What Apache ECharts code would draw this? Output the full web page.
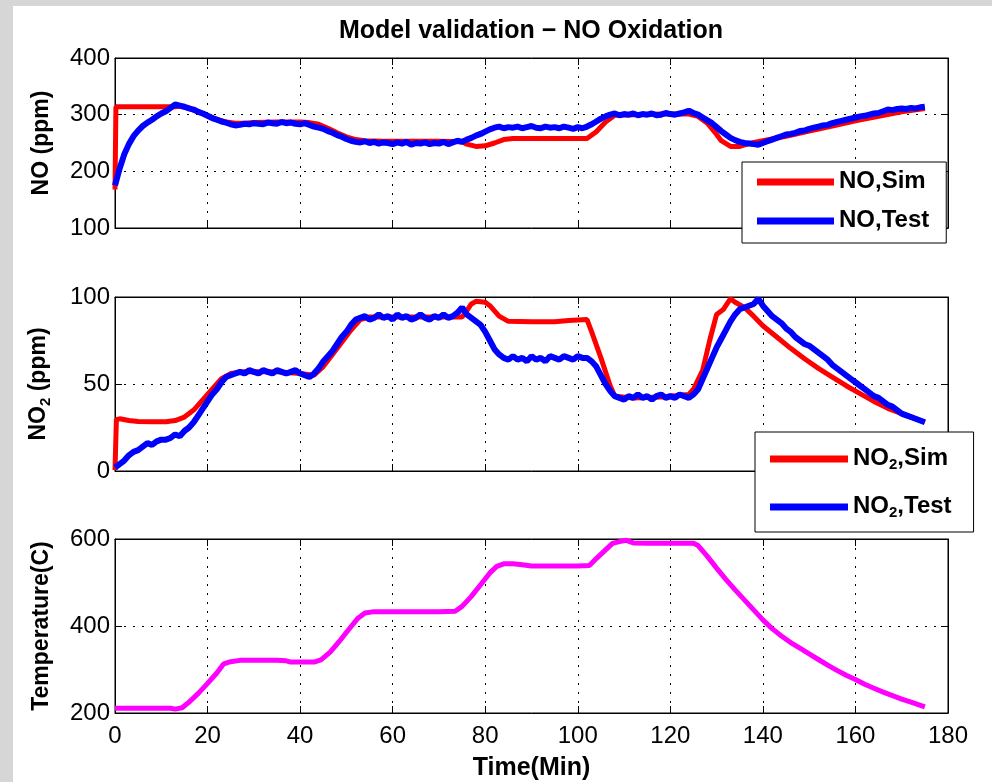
<!DOCTYPE html>
<html><head><meta charset="utf-8">
<script src="https://cdn.jsdelivr.net/npm/echarts@6/dist/echarts.min.js"></script>
<style>html,body{margin:0;padding:0;background:#fff}#c{width:992px;height:782px}</style>
</head><body><div id="c"></div>
<script>
// ---------------- DATA ----------------
const titleText = 'Model validation \u2212 NO Oxidation';
const xTicks = [0, 20, 40, 60, 80, 100, 120, 140, 160, 180];

// Simulation curves: (time, value)
const noSimT = [0,0.2,13,14,16,18,20,22,24,26,28,30,35,40,42,44,46,48,50,52,54,58,65,70,75,76,78,80,82,84,86,95,102,104,106,108,112,118,124,126,128,130,131,133,135,137,140,145,150,155,160,165,170,175];
const noSimV = [168,314,314,315,311,305,298,292,287,285,285,286,287,287,286,283,276,268,261,256,254,253,253,253,252,248,244,245,250,256,258,258,258,270,287,299,300,301,301,297,285,265,254,244,244,249,254,262,271,280,289,297,305,311];

const no2SimT = [0,0.3,1,3,5,8,11,13,15,17,19,21,23,25,28,35,40,43,45,47,49,51,53,55,65,75,76,77,78,80,81,83,85,90,95,98,102,103,105,107,108,112,118,124,125,127,128.5,130,131.5,133,134,136,138,140,143,146,149,152,155,158,161,164,167,170,173,175];
const no2SimV = [0.5,29.5,30,29,28.5,28.3,28.3,29,31,35,41,47,53,56,57,57,56,55,60,67,74,81,87,88.5,88.5,88.5,92,96,97.5,97,95,89,86,85.8,85.8,86.5,87,80,65,49,43,42,42.5,44,47,58,75,90,93,99,97,94,89,83.5,77,70.5,64.5,59,54,49,44.5,40,36,33,30,28];

// Measured curves, one reading per minute from t = 0 to 175 min
const noTestV = [175,205,230,248,262,272,280,286,291,297,302,306,312,318,316,314,311,309,305,302,
298,294,291,288,286,283,281,282,284,283,285,284,283,286,285,284,287,285,286,284,
283,285,282,279,277,275,271,268,264,261,257,254,252,251,253,250,252,249,251,250,
248,251,249,252,247,250,249,251,248,250,249,252,248,251,254,252,256,259,263,266,
270,274,277,279,276,278,277,279,276,278,280,277,276,279,277,278,276,279,277,275,
278,276,279,283,288,293,297,300,302,299,301,300,302,299,301,300,302,299,300,303,
301,300,302,304,307,303,300,295,290,285,278,271,265,259,255,252,250,249,248,247,
250,253,256,259,262,265,266,268,271,272,275,277,279,281,282,285,287,289,291,293,
295,297,298,300,302,303,306,309,308,310,311,310,312,311,313,314];

const no2TestV = [2,4,6,9,11,12,14,16,15,17,18,18,19,21,20,23,25,28,32,36,
40,44,47,51,54,55,56,57,56,58,57,56,58,57,56,58,57,56,57,58,
56,55,54,56,59,63,66,69,73,77,80,84,87,88,89,87,88,90,88,89,
87,90,88,89,87,88,90,88,87,89,88,90,88,89,91,94,90,88,86,84,
80,75,70,67,65,64,66,64,65,63,66,64,65,63,66,65,64,66,65,64,
66,65,65,63,60,55,50,46,43,42,41,43,42,44,42,43,41,43,44,42,
43,42,44,43,42,44,47,53,59,65,71,76,81,86,90,93,94,95,96,99,
95,92,89,87,85,82,80,77,75,73,72,70,68,66,64,61,59,57,55,53,
51,49,47,45,43,42,40,38,37,35,33,32,31,30,29,28];

const tempT = [0,12,13,14.5,16,18,20,22,23.5,25,27,30,35,37,38,43,44.5,46.5,48.5,50.5,52.5,54,56,60,65,70,73.5,75,77,79,81,82.5,84,86,88,90,95,100,102.5,104,106,107.5,109,110.5,112,115,120,125,126,128,130,132,134,136,138,140,142,144,146,148,150,152,154,156,158,160,162,164,166,168,170,172,175];
const tempV = [211,211,209,212,225,245,268,292,313,318,321,321,321,320,317,317,322,340,365,392,418,430,433,433,433,433,434,445,468,495,522,537,543,543,541,538,538,538,539,555,575,590,594,597,591,590,590,590,585,560,533,507,483,460,437,414,394,377,362,349,336,323,310,298,287,277,266,257,248,240,232,225,214];

const panelNames = ['NO (ppm)', '{a|NO}{s|2}{a| (ppm)}', 'Temperature(C)'];
const yMin = [100, 0, 200];
const yMax = [400, 100, 600];
const yStep = [100, 50, 200];
const seriesNames = ['NO,Sim', 'NO,Test', 'NO2,Sim', 'NO2,Test', 'Temperature'];

// ---------------- BUILD ----------------
const testT = noTestV.map((_, i) => i); // sample times (minutes)
const pairs = (t, v) => t.map((x, i) => [x, v[i]]);
const font = "'Liberation Sans', Arial, Helvetica, sans-serif";
const gridPos = [[58, 170], [297, 174], [539, 174]];
const dotted = {show: true, lineStyle: {color: '#000', width: 1, type: [2, 7]}};
const black = {color: '#000', width: 1};
const rich = {
  a: {fontSize: 23, fontWeight: 'bold', fontFamily: font, color: '#000', lineHeight: 26, verticalAlign: 'top'},
  s: {fontSize: 15, fontWeight: 'bold', fontFamily: font, color: '#000', lineHeight: 16, padding: [14, 0, 0, 0], verticalAlign: 'bottom'}
};
const legRich = {
  a: {fontSize: 24, fontWeight: 'bold', fontFamily: font, color: '#000', lineHeight: 26, verticalAlign: 'top'},
  s: {fontSize: 15, fontWeight: 'bold', fontFamily: font, color: '#000', lineHeight: 16, padding: [14, 0, 0, 0], verticalAlign: 'bottom'}
};

const grid = gridPos.map(g => ({left: 115, width: 833, top: g[0], height: g[1], show: true,
  backgroundColor: '#fff', borderColor: '#000', borderWidth: 1}));

const xAxis = [];
for (let i = 0; i < 3; i++) {
  xAxis.push({type: 'value', gridIndex: i, min: xTicks[0], max: xTicks[xTicks.length - 1], interval: xTicks[1] - xTicks[0],
    position: 'bottom',
    axisLine: {show: true, onZero: false, lineStyle: black},
    axisTick: {show: true, inside: true, length: 7, lineStyle: black},
    axisLabel: {show: i === 2, color: '#000', fontSize: 24, margin: 11, fontFamily: font},
    splitLine: dotted,
    name: i === 2 ? 'Time(Min)' : '', nameLocation: 'middle', nameGap: 43,
    nameTextStyle: {fontSize: 25, fontWeight: 'bold', color: '#000', fontFamily: font}});
}
for (let i = 0; i < 3; i++) {
  xAxis.push({type: 'value', gridIndex: i, min: xTicks[0], max: xTicks[xTicks.length - 1], interval: xTicks[1] - xTicks[0],
    position: 'top', axisLine: {show: true, onZero: false, lineStyle: black},
    axisTick: {show: true, inside: true, length: 7, lineStyle: black},
    axisLabel: {show: false}, splitLine: {show: false}});
}
const yAxis = [];
for (let i = 0; i < 3; i++) {
  yAxis.push({type: 'value', gridIndex: i, min: yMin[i], max: yMax[i], interval: yStep[i], position: 'left',
    axisLine: {show: true, onZero: false, lineStyle: black},
    axisTick: {show: true, inside: true, length: 7, lineStyle: black},
    axisLabel: {color: '#000', fontSize: 24, margin: 5, fontFamily: font},
    splitLine: dotted,
    name: panelNames[i], nameLocation: 'middle', nameGap: 62,
    nameTextStyle: {rich: rich, fontSize: 23, fontWeight: 'bold', color: '#000', fontFamily: font}});
}
for (let i = 0; i < 3; i++) {
  yAxis.push({type: 'value', gridIndex: i, min: yMin[i], max: yMax[i], interval: yStep[i], position: 'right',
    axisLine: {show: true, onZero: false, lineStyle: black},
    axisTick: {show: true, inside: true, length: 7, lineStyle: black},
    axisLabel: {show: false}, splitLine: {show: false}});
}

function line(name, idx, data, color, width, z) {
  return {name, type: 'line', xAxisIndex: idx, yAxisIndex: idx, data, showSymbol: false, symbol: 'none',
    color, itemStyle: {color}, lineStyle: {color, width}, z, silent: true};
}
const series = [
  line(seriesNames[0], 0, pairs(noSimT, noSimV), '#ff0000', 5, 2),
  line(seriesNames[1], 0, pairs(testT, noTestV), '#0000ff', 6, 3),
  line(seriesNames[2], 1, pairs(no2SimT, no2SimV), '#ff0000', 5, 2),
  line(seriesNames[3], 1, pairs(testT, no2TestV), '#0000ff', 6, 3),
  line(seriesNames[4], 2, pairs(tempT, tempV), '#ff00ff', 5, 2)
];

const legendFmt = n => n.replace(/^NO2(.*)$/, '{a|NO}{s|2}{a|$1}').replace(/^(NO,.*)$/, '{a|$1}');
const legend = [
  {data: [seriesNames[0], seriesNames[1]], orient: 'vertical', left: 742, top: 162,
   padding: [7, 17, 11, 15], itemGap: 15, itemWidth: 77, itemHeight: 7, icon: 'rect',
   backgroundColor: '#fff', borderColor: '#000', borderWidth: 1, borderRadius: 0,
   formatter: legendFmt, textStyle: {rich: legRich, fontSize: 24, fontWeight: 'bold', color: '#000', fontFamily: font},
   selectedMode: false, z: 10},
  {data: [seriesNames[2], seriesNames[3]], orient: 'vertical', left: 755, top: 432,
   padding: [11, 22, 12, 15], itemGap: 19, itemWidth: 78, itemHeight: 7, icon: 'rect',
   backgroundColor: '#fff', borderColor: '#000', borderWidth: 1, borderRadius: 0,
   formatter: legendFmt, textStyle: {rich: legRich, fontSize: 24, fontWeight: 'bold', color: '#000', fontFamily: font},
   selectedMode: false, z: 10}
];

const chart = echarts.init(document.getElementById('c'), null, {renderer: 'canvas'});
chart.setOption({
  animation: false,
  backgroundColor: '#d6d6d6',
  textStyle: {fontFamily: font},
  graphic: [{type: 'rect', left: 13, top: 6, z: -10, silent: true,
    shape: {width: 979, height: 776}, style: {fill: '#ffffff'}}],
  title: {text: titleText, left: 531, top: 19, textAlign: 'center', padding: 0,
    textStyle: {fontSize: 25, fontWeight: 'bold', color: '#000', fontFamily: font}},
  grid, xAxis, yAxis, legend, series
});
</script></body></html>
